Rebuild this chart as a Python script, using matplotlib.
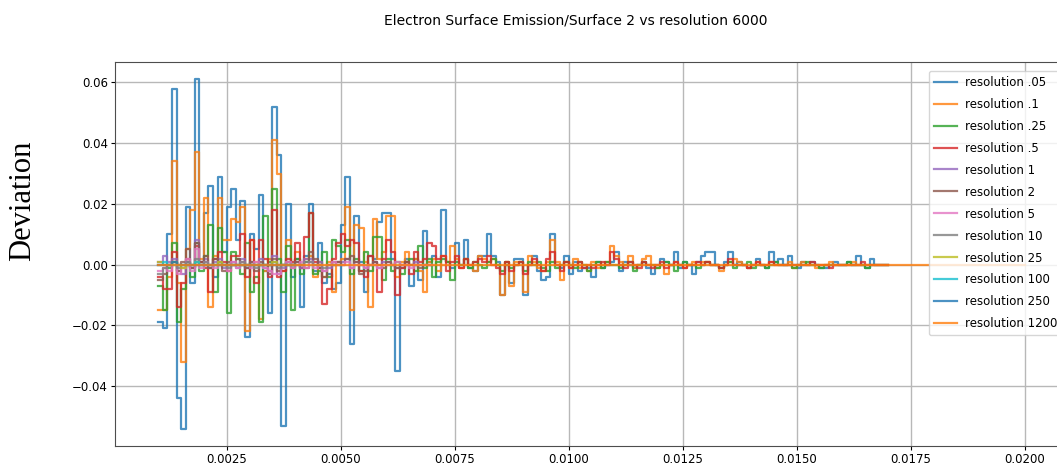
import numpy as np
import matplotlib
matplotlib.use("Agg")
import matplotlib.pyplot as plt

# deviation of each resolution run from the resolution 6000 reference, per energy bin
bin_start = 0.001
bin_width = 0.0001

res_05 = [
    -0.019, -0.021, 0.010, 0.058, -0.044, -0.054, 0.019, -0.006, 0.061, 0.001,
    0.017, 0.026, -0.004, 0.029, 0.004, 0.019, 0.025, 0.008, 0.021, -0.024,
    0.010, 0.005, 0.023, -0.002, -0.016, 0.052, 0.036, -0.053, 0.020, -0.004,
    0.002, -0.014, 0.003, 0.020, -0.002, 0.007, -0.006, -0.003, -0.008, -0.006,
    0.013, 0.029, -0.026, 0.016, 0.001, -0.009, 0.003, 0.002, 0.014, 0.017,
    0.017, 0.002, -0.035, -0.001, 0.002, -0.007, 0.002, -0.005, 0.011, 0.001,
    0.003, -0.004, 0.018, 0.001, -0.001, 0.007, 0.000, 0.008, -0.001, -0.002,
    0.003, 0.003, 0.010, 0.003, 0.001, -0.010, 0.000, -0.006, 0.002, 0.002,
    -0.010, 0.000, 0.003, -0.002, -0.005, -0.004, 0.010, 0.000, -0.001, 0.003,
    -0.003, 0.001, -0.002, -0.001, -0.001, -0.004, 0.001, -0.001, 0.000, 0.001,
    0.004, -0.002, 0.001, 0.000, -0.001, 0.000, 0.001, -0.001, -0.003, 0.000,
    0.002, 0.001, 0.000, 0.004, -0.001, 0.001, 0.000, -0.003, 0.001, 0.003,
    0.004, 0.004, 0.000, -0.001, 0.001, 0.004, 0.000, 0.001, 0.000, -0.001,
    0.000, 0.002, 0.000, -0.001, 0.004, 0.001, 0.002, 0.000, 0.003, 0.000,
    -0.001, 0.001, 0.000, 0.001, 0.000, -0.001, -0.001, 0.000, 0.001, 0.000,
    0.000, 0.001, 0.000, 0.003, 0.000, -0.001, 0.002, 0.000, 0.000, 0.000,
]
res_1 = [
    -0.015, -0.015, -0.004, 0.034, -0.006, -0.032, 0.005, 0.018, 0.037, 0.002,
    0.022, -0.014, 0.003, 0.022, 0.008, 0.008, 0.015, 0.014, 0.019, -0.022,
    0.008, 0.001, -0.018, -0.002, 0.002, 0.041, 0.030, -0.002, 0.008, 0.000,
    0.004, -0.001, 0.002, 0.003, -0.004, 0.001, -0.004, 0.001, -0.009, 0.001,
    0.002, 0.019, -0.015, 0.013, 0.012, 0.001, -0.014, 0.015, 0.002, 0.004,
    0.016, 0.016, -0.004, 0.001, 0.004, 0.000, 0.002, -0.002, -0.009, 0.001,
    0.002, -0.002, 0.003, 0.001, 0.006, 0.002, -0.001, 0.002, 0.000, -0.002,
    0.003, 0.002, 0.001, 0.002, 0.000, -0.010, 0.001, -0.007, 0.001, 0.001,
    -0.009, 0.003, 0.001, -0.001, -0.002, 0.001, 0.008, 0.001, -0.005, 0.001,
    -0.001, 0.002, -0.001, 0.000, -0.002, 0.001, -0.001, 0.000, 0.001, 0.006,
    0.003, 0.001, 0.000, 0.003, -0.001, 0.000, 0.002, 0.003, 0.000, -0.001,
    0.000, -0.003, 0.000, 0.001, 0.000, -0.001, 0.000, 0.001, 0.000, 0.001,
    0.001, 0.000, 0.000, -0.002, 0.000, 0.001, 0.002, 0.001, 0.000, -0.001,
    0.000, 0.001, 0.000, 0.000, 0.001, 0.000, 0.000, 0.000, 0.001, -0.001,
    0.000, 0.001, 0.000, 0.000, -0.001, 0.000, 0.000, 0.001, 0.000, 0.000,
    0.000, 0.000, 0.001, 0.000, 0.000, 0.000, 0.000, 0.000, 0.000, 0.000,
]
res_25 = [
    -0.007, -0.015, -0.001, 0.007, -0.019, -0.008, 0.001, -0.004, 0.007, -0.002,
    0.003, 0.013, -0.009, 0.012, 0.004, -0.016, 0.004, 0.002, -0.003, 0.007,
    -0.009, -0.004, -0.019, 0.016, 0.001, 0.025, 0.002, -0.009, 0.006, -0.015,
    0.002, -0.003, 0.001, 0.017, -0.003, -0.002, 0.004, -0.004, 0.008, 0.006,
    0.004, 0.008, -0.003, 0.002, -0.002, 0.004, -0.002, 0.009, 0.009, -0.005,
    0.002, -0.002, 0.001, -0.003, 0.001, 0.002, -0.002, 0.006, -0.001, 0.002,
    -0.004, 0.001, 0.002, 0.001, -0.005, 0.001, 0.000, 0.002, -0.001, 0.001,
    0.000, -0.001, 0.001, 0.002, 0.000, -0.002, 0.001, -0.001, 0.000, 0.001,
    -0.002, 0.001, 0.000, 0.001, -0.001, -0.002, 0.001, -0.001, 0.000, 0.001,
    0.000, -0.001, 0.001, 0.000, -0.002, 0.000, 0.001, -0.001, 0.001, 0.000,
    0.000, -0.001, 0.000, 0.001, -0.002, 0.000, 0.001, 0.000, 0.000, -0.001,
    0.000, 0.001, 0.000, -0.002, 0.000, 0.001, 0.000, 0.000, -0.001, 0.000,
    0.001, 0.000, 0.000, -0.001, 0.000, 0.001, -0.001, 0.000, 0.000, 0.001,
    -0.001, 0.000, 0.000, -0.001, 0.000, 0.001, 0.000, 0.000, 0.000, -0.001,
    0.000, 0.000, 0.001, 0.000, 0.000, -0.001, 0.000, 0.000, 0.000, 0.000,
    0.000, 0.001, 0.000, 0.000, 0.000, -0.001, 0.000, 0.000, 0.000, 0.000,
]
res_5 = [
    -0.004, -0.008, -0.008, 0.004, -0.014, -0.006, 0.002, -0.001, 0.006, 0.001,
    -0.001, -0.009, 0.002, 0.004, 0.001, -0.002, 0.003, 0.003, 0.010, -0.004,
    0.008, -0.006, 0.008, 0.002, -0.004, 0.018, -0.004, -0.002, 0.002, 0.001,
    0.007, -0.001, 0.009, 0.017, 0.001, -0.001, -0.013, -0.008, 0.002, 0.007,
    0.010, 0.006, 0.008, 0.007, -0.002, -0.004, 0.003, 0.001, -0.009, 0.002,
    0.008, 0.004, -0.010, -0.001, 0.001, -0.003, 0.004, 0.001, 0.002, 0.007,
    0.006, 0.002, 0.003, -0.002, 0.001, 0.003, -0.001, 0.002, 0.000, 0.001,
    0.002, 0.001, 0.003, 0.000, -0.001, -0.003, 0.001, -0.002, 0.000, 0.001,
    -0.003, 0.000, 0.002, 0.000, -0.002, 0.002, 0.004, 0.000, -0.002, 0.001,
    -0.001, 0.000, 0.001, -0.001, 0.000, -0.001, 0.000, 0.001, 0.000, 0.004,
    0.002, 0.000, -0.001, 0.001, 0.000, -0.001, 0.001, 0.000, -0.001, 0.000,
    0.001, -0.001, 0.000, 0.001, 0.000, -0.001, 0.000, 0.000, 0.001, 0.000,
    0.001, 0.000, 0.000, -0.001, 0.000, 0.002, 0.000, 0.000, 0.000, -0.001,
    0.000, 0.001, 0.000, 0.000, 0.001, 0.000, 0.000, 0.000, 0.000, 0.000,
    0.000, 0.000, 0.000, 0.001, 0.000, 0.000, 0.000, -0.001, 0.000, 0.000,
    0.000, 0.000, 0.000, 0.000, 0.001, 0.000, 0.000, 0.000, 0.000, 0.000,
]
res_1_0 = [
    0.001, 0.003, 0.001, 0.002, -0.002, -0.003, 0.001, -0.001, 0.008, 0.000,
    0.002, -0.001, 0.001, 0.002, -0.001, 0.000, 0.001, -0.001, 0.002, -0.001,
    0.001, 0.000, 0.002, -0.001, -0.002, 0.003, -0.003, -0.001, 0.001, 0.000,
    0.001, -0.001, 0.002, 0.002, 0.000, 0.001, -0.002, -0.001, 0.000, 0.001,
    0.001, 0.002, -0.001, 0.001, 0.000, -0.001, 0.000, 0.001, -0.001, 0.001,
    0.001, 0.000, -0.001, 0.000, 0.000, 0.000, 0.001, 0.000, 0.000, 0.000,
]
res_2 = [
    -0.005, -0.003, 0.000, 0.001, -0.002, 0.001, 0.005, -0.001, 0.007, 0.001,
    0.003, -0.001, 0.002, 0.001, -0.002, 0.001, 0.000, 0.002, 0.000, -0.001,
    0.001, -0.002, 0.001, 0.000, -0.003, 0.002, -0.002, 0.000, 0.001, -0.001,
    0.001, 0.000, -0.001, 0.004, 0.002, -0.001, -0.004, 0.000, 0.001, 0.001,
    0.000, 0.002, 0.003, 0.001, -0.003, -0.002, 0.000, 0.001, 0.000, -0.001,
    0.001, 0.000, -0.001, 0.000, 0.001, 0.000, 0.000, -0.001, 0.000, 0.000,
]
res_5_0 = [
    -0.002, -0.001, -0.002, 0.001, -0.003, -0.001, 0.002, -0.002, 0.005, -0.001,
    0.001, 0.000, -0.001, 0.001, 0.000, -0.002, 0.001, -0.001, 0.001, 0.000,
    -0.001, 0.001, 0.000, -0.001, -0.002, -0.003, -0.003, 0.000, 0.001, -0.001,
    0.000, 0.001, -0.001, 0.001, -0.001, 0.000, -0.002, 0.000, 0.001, 0.000,
    0.000, 0.001, -0.001, 0.000, 0.000, -0.001, 0.000, 0.000, -0.001, 0.000,
    0.000, 0.000, 0.001, 0.000, 0.000, -0.001, 0.000, 0.000, 0.000, 0.000,
]
res_10 = [
    -0.003, -0.001, 0.000, 0.001, -0.001, 0.000, 0.001, 0.000, 0.002, 0.000,
    0.001, 0.000, 0.000, 0.001, 0.000, -0.001, 0.000, 0.000, 0.001, 0.000,
    0.000, -0.001, 0.000, 0.000, 0.000, 0.001, -0.001, 0.000, 0.000, 0.000,
    0.000, 0.000, 0.001, 0.001, 0.000, 0.000, -0.001, 0.000, 0.000, 0.000,
]
res_25_0 = [
    0.001, 0.000, 0.000, 0.001, 0.000, -0.001, 0.000, 0.000, 0.001, 0.000,
    0.000, 0.000, 0.000, 0.001, 0.000, 0.000, 0.000, 0.000, 0.000, 0.000,
    0.000, 0.000, 0.000, 0.000, 0.000, 0.001, 0.000, 0.000, 0.000, 0.000,
]
res_100 = [
    0.000, 0.001, 0.000, 0.000, 0.000, 0.000, 0.000, 0.000, 0.001, 0.000,
    0.000, 0.000, 0.000, 0.000, 0.000, 0.000, 0.000, 0.000, 0.000, 0.000,
    0.000, 0.000, 0.000, 0.000, 0.000, 0.000, 0.000, 0.000, 0.000, 0.000,
]
res_250 = [
    0.000, 0.000, 0.000, 0.001, 0.000, 0.000, 0.000, 0.000, 0.000, 0.000,
    0.000, 0.000, 0.000, 0.000, 0.000, 0.000, 0.000, 0.000, 0.000, 0.000,
    0.000, 0.000, 0.000, 0.000, 0.000, 0.000, 0.000, 0.000, 0.000, 0.000,
]
res_1200 = [
    0.000, 0.000, 0.000, 0.000, 0.000, 0.000, 0.000, 0.000, 0.000, 0.000,
    0.000, 0.000, 0.000, 0.000, 0.000, 0.000, 0.000, 0.000, 0.000, 0.000,
    0.000, 0.000, 0.000, 0.000, 0.000, 0.000, 0.000, 0.000, 0.000, 0.000,
    0.000, 0.000, 0.000, 0.000, 0.000, 0.000, 0.000, 0.000, 0.000, 0.000,
    0.000, 0.000, 0.000, 0.000, 0.000, 0.000, 0.000, 0.000, 0.000, 0.000,
    0.000, 0.000, 0.000, 0.000, 0.000, 0.000, 0.000, 0.000, 0.000, 0.000,
    0.000, 0.000, 0.000, 0.000, 0.000, 0.000, 0.000, 0.000, 0.000, 0.000,
    0.000, 0.000, 0.000, 0.000, 0.000, 0.000, 0.000, 0.000, 0.000, 0.000,
    0.000, 0.000, 0.000, 0.000, 0.000, 0.000, 0.000, 0.000, 0.000, 0.000,
    0.000, 0.000, 0.000, 0.000, 0.000, 0.000, 0.000, 0.000, 0.000, 0.000,
    0.000, 0.000, 0.000, 0.000, 0.000, 0.000, 0.000, 0.000, 0.000, 0.000,
    0.000, 0.000, 0.000, 0.000, 0.000, 0.000, 0.000, 0.000, 0.000, 0.000,
    0.000, 0.000, 0.000, 0.000, 0.000, 0.000, 0.000, 0.000, 0.000, 0.000,
    0.000, 0.000, 0.000, 0.000, 0.000, 0.000, 0.000, 0.000, 0.000, 0.000,
    0.000, 0.000, 0.000, 0.000, 0.000, 0.000, 0.000, 0.000, 0.000, 0.000,
    0.000, 0.000, 0.000, 0.000, 0.000, 0.000, 0.000, 0.000, 0.000, 0.000,
    0.000, 0.000, 0.000, 0.000, 0.000, 0.000, 0.000, 0.000, 0.000, 0.000,
    0.000, 0.000, 0.000, 0.000, 0.000, 0.000, 0.000, 0.000, 0.000, 0.000,
    0.000, 0.000, 0.000, 0.000, 0.000, 0.000, 0.000, 0.000, 0.000, 0.000,
]

labels = ['resolution .05', 'resolution .1', 'resolution .25', 'resolution .5',
          'resolution 1', 'resolution 2', 'resolution 5', 'resolution 10',
          'resolution 25', 'resolution 100', 'resolution 250', 'resolution 1200']
series = [res_05, res_1, res_25, res_5, res_1_0, res_2, res_5_0, res_10,
          res_25_0, res_100, res_250, res_1200]

plt.rcParams['font.family'] = ['DejaVu Sans']

fig = plt.figure(figsize=(10.57, 4.69), dpi=100)
# axes run a little past the right edge of the canvas
ax = fig.add_axes([0.1088, 0.049, 0.9016, 0.8188])

for vals, lab in zip(series, labels):
    edges = bin_start + bin_width * np.arange(len(vals) + 1)
    ax.step(edges, np.append(vals, vals[-1]), where='post', lw=1.6, alpha=0.8, label=lab)

ax.grid(True, color='#b8b8b8', lw=1)
for s in ax.spines.values():
    s.set_color('0.3')
ax.tick_params(labelsize=8.5, length=3, pad=2)

ax.legend(loc='upper left', bbox_to_anchor=(929 / 1057, 1 - 71 / 469),
          bbox_transform=fig.transFigure, borderaxespad=0, fontsize=8.5,
          labelspacing=0.76, handlelength=2.0, handletextpad=0.65)

fig.text(0.545, 0.957, 'Electron Surface Emission/Surface 2 vs resolution 6000',
         ha='center', va='center', fontsize=10)
fig.text(0.021, 0.571, 'Deviation', rotation=90, ha='center', va='center',
         family='Liberation Serif', fontsize=22)

fig.savefig('out.png', dpi=100)
